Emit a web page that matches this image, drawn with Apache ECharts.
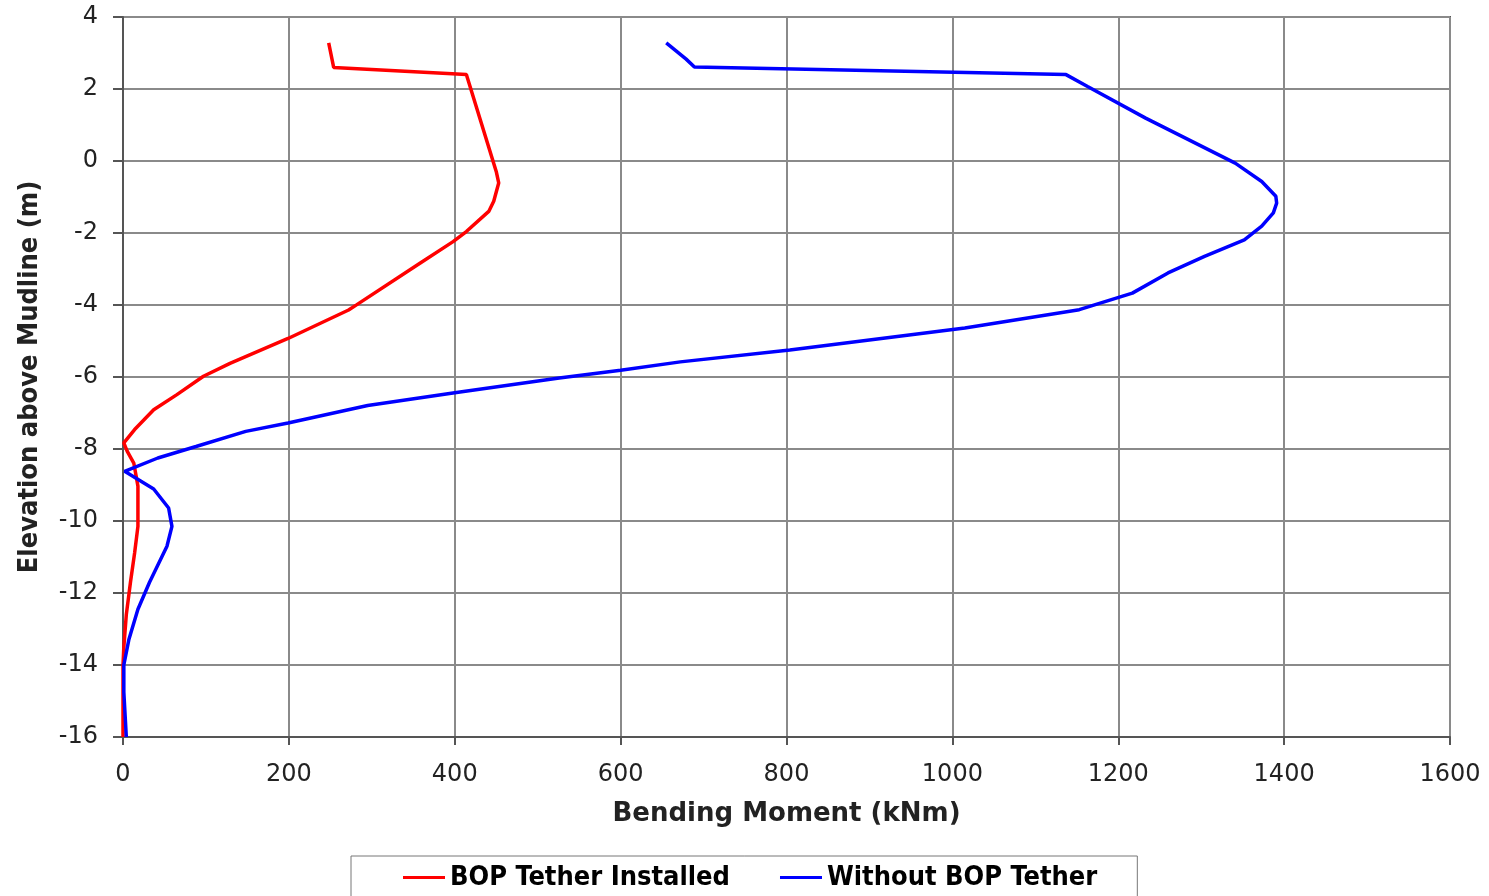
<!DOCTYPE html>
<html lang="en">
<head>
<meta charset="UTF-8">
<title>Bending Moment vs Elevation</title>
<script src="https://cdn.jsdelivr.net/npm/echarts@6/dist/echarts.min.js"></script>
<style>
  html, body { margin: 0; padding: 0; background: #fff; }
  #chart { width: 1489px; height: 896px; }
</style>
</head>
<body>
<div id="chart"></div>
<script>
// bending moment (kNm), paired with elevation (m)
const tetherMoment = [248, 254, 414, 450, 453, 447, 441, 414, 398, 358, 282, 272, 199, 129, 97, 65, 37, 14, 1, 5, 13, 18, 18, 18, 14, 9, 4, 1, 0, 0];
const tetherElev   = [3.28, 2.6, 2.4, -0.29, -0.61, -1.12, -1.4, -1.96, -2.24, -2.84, -3.99, -4.14, -4.93, -5.62, -5.98, -6.49, -6.91, -7.46, -7.83, -8.06, -8.39, -9.03, -9.6, -10.15, -10.89, -11.7, -12.6, -13.5, -14, -16];

const freeMoment = [655, 679, 689, 1137, 1163, 1233, 1341, 1373, 1390, 1391, 1387, 1373, 1352, 1304, 1260, 1217, 1153, 1015, 804, 672, 600, 526, 400, 295, 199, 148, 88, 42, 2, 37, 55, 59, 53, 32, 18, 7, 1, 1, 4];
const freeElev   = [3.28, 2.83, 2.61, 2.4, 2.07, 1.19, -0.06, -0.57, -0.98, -1.17, -1.44, -1.81, -2.19, -2.65, -3.11, -3.67, -4.13, -4.64, -5.25, -5.58, -5.81, -6.03, -6.44, -6.79, -7.28, -7.51, -7.93, -8.25, -8.62, -9.11, -9.64, -10.15, -10.7, -11.7, -12.45, -13.3, -14, -14.75, -16];

const seriesNames = ['BOP Tether Installed', 'Without BOP Tether'];
const seriesColors = ['#ff0000', '#0000ff'];

const pair = (xs, ys) => xs.map((x, i) => [x, ys[i]]);

const labelFont = 'DejaVu Sans, Verdana, sans-serif';
const narrowBold = '"DejaVu Sans Condensed", "Liberation Sans Narrow", "DejaVu Sans", sans-serif';

const chart = echarts.init(document.getElementById('chart'), null, { renderer: 'canvas' });

chart.setOption({
  animation: false,
  backgroundColor: '#ffffff',
  grid: {
    left: 123, right: 39, top: 17, bottom: 159,
    show: true, borderColor: '#555', borderWidth: 2
  },
  legend: {
    left: 351, top: 856,
    data: seriesNames,
    icon: 'rect',
    itemWidth: 42, itemHeight: 3, itemGap: 50,
    padding: [8, 40, 20, 52],
    borderColor: '#777', borderWidth: 1,
    textStyle: { fontFamily: narrowBold, fontWeight: 'bold', fontSize: 27, color: '#000' }
  },
  xAxis: {
    type: 'value', min: 0, max: 1600, interval: 200,
    name: 'Bending Moment (kNm)', nameLocation: 'middle', nameGap: 64,
    nameTextStyle: { fontFamily: labelFont, fontWeight: 'bold', fontSize: 26, color: '#222' },
    axisLine: { show: true, onZero: false, lineStyle: { color: '#555', width: 2 } },
    axisTick: { show: true, length: 8, lineStyle: { color: '#555', width: 2 } },
    axisLabel: { fontFamily: labelFont, fontSize: 24, color: '#222', margin: 26, formatter: v => String(v) },
    splitLine: { show: true, lineStyle: { color: '#8a8a8a', width: 2 } }
  },
  yAxis: {
    type: 'value', min: -16, max: 4, interval: 2,
    name: 'Elevation above Mudline (m)', nameLocation: 'middle', nameGap: 80, nameRotate: 90,
    nameTextStyle: { fontFamily: narrowBold, fontWeight: 'bold', fontSize: 27, color: '#222' },
    axisLine: { show: true, onZero: false, lineStyle: { color: '#555', width: 2 } },
    axisTick: { show: true, length: 10, lineStyle: { color: '#555', width: 2 } },
    axisLabel: { fontFamily: labelFont, fontSize: 24, color: '#222', margin: 25, formatter: v => String(v) },
    splitLine: { show: true, lineStyle: { color: '#8a8a8a', width: 2 } }
  },
  series: [
    {
      name: seriesNames[0], type: 'line', showSymbol: false,
      data: pair(tetherMoment, tetherElev),
      lineStyle: { color: seriesColors[0], width: 3.5 },
      itemStyle: { color: seriesColors[0] }
    },
    {
      name: seriesNames[1], type: 'line', showSymbol: false,
      data: pair(freeMoment, freeElev),
      lineStyle: { color: seriesColors[1], width: 3.5 },
      itemStyle: { color: seriesColors[1] }
    }
  ]
});
</script>
</body>
</html>
